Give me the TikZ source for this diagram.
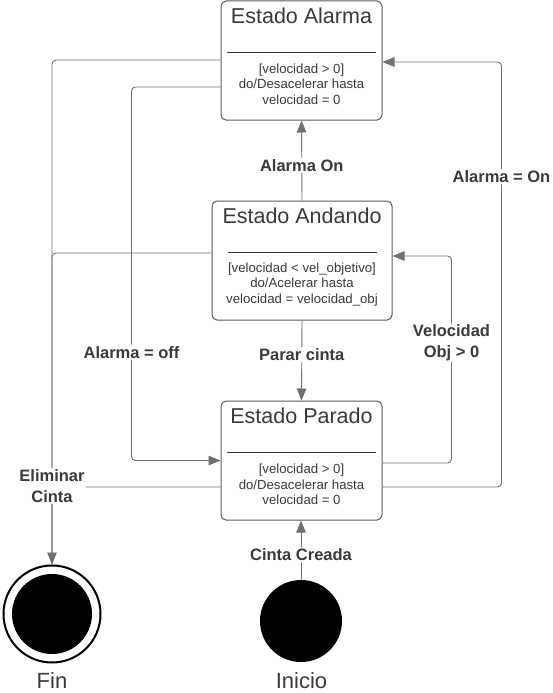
\documentclass[tikz,border=0pt]{standalone}
\usepackage{fontspec}
\setmainfont{Liberation Sans}
\usetikzlibrary{arrows.meta}
\definecolor{boxc}{HTML}{5A5A5A}
\definecolor{linec}{HTML}{707070}
\definecolor{txtc}{HTML}{3A3A3A}
\tikzset{
  state/.style={draw=boxc, line width=1pt, rounded corners=5pt, minimum width=161pt,
    minimum height=119pt, inner sep=0pt, fill=white},
  wstate/.style={state, minimum width=180pt},
  ttl/.style={anchor=base, text=txtc, font=\fontsize{21.5}{24}\selectfont, inner sep=0pt},
  sepline/.style={draw=txtc, line width=1.1pt},
  bodytxt/.style={text=txtc, align=center, inner sep=0pt, font=\fontsize{13.2}{15.6}\selectfont},
  conn/.style={draw=linec, line width=0.9pt, rounded corners=4pt},
  arr/.style={conn, -{Triangle[length=12pt,width=9.5pt]}},
  lbl/.style={fill=white, text=txtc, inner sep=1.5pt, align=center,
    font=\fontsize{16.5}{21}\selectfont\bfseries},
  bigtxt/.style={anchor=base, text=txtc, inner sep=0pt, font=\fontsize{22}{24}\selectfont},
}
\begin{document}
\begin{tikzpicture}[x=1pt,y=-1pt]
\useasboundingbox (0,0) rectangle (553,693);
\fill[white] (0,0) rectangle (553,693);

% states
\node[state] (alarma) at (301.5,60.5) {};
\node[wstate] (andando) at (302,260.5) {};
\node[state] (parado) at (301.5,460.5) {};

\node[ttl] (talarma) at ([yshift=-23pt]alarma.north) {Estado Alarma};
\node[ttl] (tandando) at ([yshift=-23pt]andando.north) {Estado Andando};
\node[ttl] (tparado) at ([yshift=-23pt]parado.north) {Estado Parado};

\draw[sepline] ([xshift=-74.5pt,yshift=-52pt]alarma.north) -- ([xshift=74.5pt,yshift=-52pt]alarma.north);
\draw[sepline] ([xshift=-74.5pt,yshift=-52pt]andando.north) -- ([xshift=74.5pt,yshift=-52pt]andando.north);
\draw[sepline] ([xshift=-74.5pt,yshift=-52pt]parado.north) -- ([xshift=74.5pt,yshift=-52pt]parado.north);

\node[bodytxt] (balarma) at ([yshift=-83.5pt]alarma.north) {[velocidad > 0]\\do/Desacelerar hasta\\velocidad = 0};
\node[bodytxt] (bandando) at ([yshift=-84pt]andando.north) {[velocidad < vel\_objetivo]\\do/Acelerar hasta\\velocidad = velocidad\_obj};
\node[bodytxt] (bparado) at ([yshift=-84pt]parado.north) {[velocidad > 0]\\do/Desacelerar hasta\\velocidad = 0};

% start / end
\node[circle, draw=black, line width=2pt, fill=white, minimum size=97pt, inner sep=0pt] (fin) at (52,614) {};
\fill[black] (fin.center) circle (40);
\node[circle, fill=black, minimum size=82pt, inner sep=0pt] (inicio) at (301,621) {};
\node[bigtxt] (tfin) at (52,688) {Fin};
\node[bigtxt] (tinicio) at (301.5,688) {Inicio};

% transitions
\draw[arr] (inicio.north) -- (inicio.north |- parado.south)
  node[lbl, pos=0.42] (lcreada) {Cinta Creada};
\draw[arr] (andando.north) -- (alarma.south)
  node[lbl, pos=0.44] (lon) {Alarma On};
\draw[arr] (andando.south) -- (parado.north)
  node[lbl, pos=0.43] (lparar) {Parar cinta};

\draw[arr] ([yshift=-2.5pt]parado.east) -- ++(69,0) |- ([yshift=4.5pt]andando.east)
  node[lbl, pos=0.29, inner sep=1pt] (lvel) {Velocidad\\Obj > 0};
\draw[arr] ([yshift=-26.5pt]parado.east) -- ++(119,0) |- ([yshift=-1.5pt]alarma.east)
  node[lbl, pos=0.365] (lalon) {Alarma = On};
\draw[arr] ([yshift=-26.5pt]alarma.west) -- ++(-89,0) |- (parado.west)
  node[lbl, pos=0.355] (laloff) {Alarma = off};

% to Fin
\draw[arr] ([yshift=0.5pt]alarma.west) -| (fin.north);
\draw[conn] ([yshift=7.5pt]andando.west) -| (fin.north);
\draw[conn] ([yshift=-26.5pt]parado.west) -| (fin.north);
\node[lbl, inner sep=1pt] (lelim) at (52,486) {Eliminar\\Cinta};
\end{tikzpicture}
\end{document}
